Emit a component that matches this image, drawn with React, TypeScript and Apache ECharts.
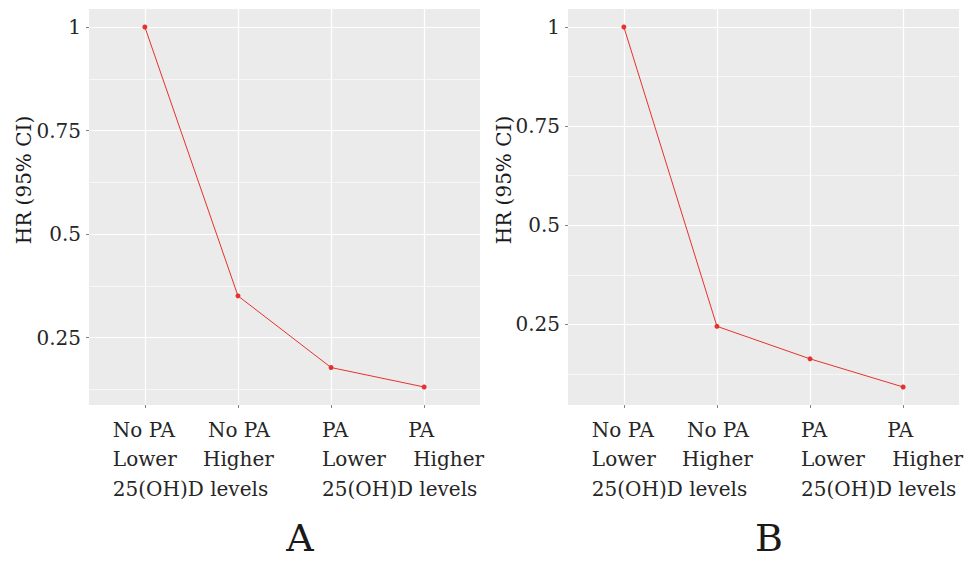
import React, { useEffect, useRef } from 'react';
import * as echarts from 'echarts';

// ---------- data ----------
const categoryLines: string[][] = [
  ['No PA', 'Lower', '25(OH)D levels'],
  ['No PA', 'Higher'],
  ['PA', 'Lower', '25(OH)D levels'],
  ['PA', 'Higher'],
];
const hrA: number[] = [1.0, 0.351, 0.178, 0.131];
const hrB: number[] = [1.0, 0.245, 0.163, 0.092];
const yTickValues: number[] = [0.25, 0.5, 0.75, 1];
const panelLetters: string[] = ['A', 'B'];
const yTitle = 'HR (95% CI)';

// ---------- layout / style ----------
const FONT = 'DejaVu Serif';
const TEXT = '#262626';
const LABEL_BOX = 80;
// left edge of each label line relative to its tick (px)
const lineOffsets: number[][] = [
  [-32.5, -32.5, -32.5],
  [-30.5, -35.5],
  [-9, -9, -9],
  [-16.5, -11],
];
const panels = [
  { left: 89, data: hrA, titleX: 23.5, letterX: 300 },
  { left: 568, data: hrB, titleX: 503.5, letterX: 769 },
];
const PLOT_TOP = 9;
const PLOT_W = 391;
const PLOT_H = 396;
const RED = '#e5322d';

const rich: Record<string, any> = {};
const labelStrings: string[] = categoryLines.map((lines, i) =>
  lines
    .map((t, j) => {
      const pad = Math.round(LABEL_BOX / 2 + lineOffsets[i][j]);
      const key = 'p' + pad;
      rich[key] = {
        padding: [0, 0, 0, pad],
        align: 'left',
        fontFamily: FONT,
        fontSize: 20,
        lineHeight: 29.5,
        color: TEXT,
      };
      return `{${key}|${t}}`;
    })
    .join('\n')
);

function ggExtent(arr: number[]): [number, number] {
  const lo = Math.min(...arr);
  const hi = Math.max(...arr);
  const pad = (hi - lo) * 0.05;
  return [lo - pad, hi + pad];
}

export default function App() {
  const ref = useRef<HTMLDivElement>(null);
  useEffect(() => {
    if (!ref.current) return;
    const chart = echarts.init(ref.current, undefined, { renderer: 'svg' });
    const catIdx = categoryLines.map((_, i) => i);
    const evenIdx = catIdx.filter((i) => i % 2 === 0);
    const oddIdx = catIdx.filter((i) => i % 2 === 1);
    const grids: any[] = [];
    const xAxes: any[] = [];
    const yAxes: any[] = [];
    const series: any[] = [];
    const graphics: any[] = [];
    const labelCfg = (values: number[]) => ({
      customValues: values,
      showMinLabel: true,
      showMaxLabel: true,
      hideOverlap: false,
      margin: 10,
      width: LABEL_BOX,
      align: 'center',
      formatter: (v: number) => labelStrings[Math.round(v)] ?? '',
      rich,
    });
    panels.forEach((p, k) => {
      grids.push({
        left: p.left,
        top: PLOT_TOP,
        width: PLOT_W,
        height: PLOT_H,
        show: true,
        backgroundColor: '#ebebeb',
        borderWidth: 0,
      });
      const xMin = -0.6;
      const xMax = categoryLines.length - 1 + 0.6;
      // main x axis: ticks, grid lines, labels of even categories
      xAxes.push({
        type: 'value',
        gridIndex: k,
        position: 'bottom',
        offset: 0,
        min: xMin,
        max: xMax,
        minInterval: 1,
        maxInterval: 1,
        axisLine: { show: false, onZero: false },
        axisTick: { show: true, length: 3, customValues: catIdx, lineStyle: { color: '#808080', width: 1 } },
        axisLabel: labelCfg(evenIdx),
        splitLine: { show: true, lineStyle: { color: '#ffffff', width: 1.2 } },
        minorSplitLine: { show: false },
      });
      // companion x axis: labels of odd categories
      xAxes.push({
        type: 'value',
        gridIndex: k,
        position: 'bottom',
        offset: 0,
        min: xMin,
        max: xMax,
        minInterval: 1,
        maxInterval: 1,
        axisLine: { show: false, onZero: false },
        axisTick: { show: false },
        axisLabel: labelCfg(oddIdx),
        splitLine: { show: false },
      });
      const [mn, mx] = ggExtent(p.data);
      yAxes.push({
        type: 'value',
        gridIndex: k,
        min: mn,
        max: mx,
        minInterval: 0.25,
        maxInterval: 0.25,
        axisLine: { show: false, onZero: false },
        axisTick: { show: true, length: 3, customValues: yTickValues, lineStyle: { color: '#808080', width: 1 } },
        axisLabel: {
          customValues: yTickValues,
          showMinLabel: true,
          showMaxLabel: true,
          margin: 8,
          color: TEXT,
          fontFamily: FONT,
          fontSize: 20,
        },
        splitLine: { show: true, lineStyle: { color: '#ffffff', width: 1.2 } },
        minorTick: { show: false, splitNumber: 2 },
        minorSplitLine: { show: true, lineStyle: { color: '#ffffff', width: 0.6 } },
      });
      series.push({
        type: 'line',
        xAxisIndex: 2 * k,
        yAxisIndex: k,
        data: p.data.map((v, i) => [catIdx[i], v]),
        symbol: 'circle',
        symbolSize: 5,
        lineStyle: { color: RED, width: 1 },
        itemStyle: { color: RED },
        z: 5,
      });
      graphics.push({
        type: 'text',
        x: p.titleX,
        y: 180,
        rotation: Math.PI / 2,
        style: {
          text: yTitle,
          font: `20px "${FONT}"`,
          fill: '#1a1a1a',
          align: 'center',
          textAlign: 'center',
          verticalAlign: 'middle',
          textVerticalAlign: 'middle',
        },
      });
      graphics.push({
        type: 'text',
        x: p.letterX,
        y: 538,
        style: {
          text: panelLetters[k],
          font: `38px "${FONT}"`,
          fill: '#1a1a1a',
          align: 'center',
          textAlign: 'center',
          verticalAlign: 'middle',
          textVerticalAlign: 'middle',
        },
      });
    });
    chart.setOption({
      animation: false,
      backgroundColor: '#ffffff',
      grid: grids,
      xAxis: xAxes,
      yAxis: yAxes,
      series,
      graphic: graphics,
    });
    return () => chart.dispose();
  }, []);
  return (
    <div
      ref={ref}
      style={{ position: 'fixed', left: 0, top: 0, width: 968, height: 561, background: '#fff' }}
    />
  );
}
